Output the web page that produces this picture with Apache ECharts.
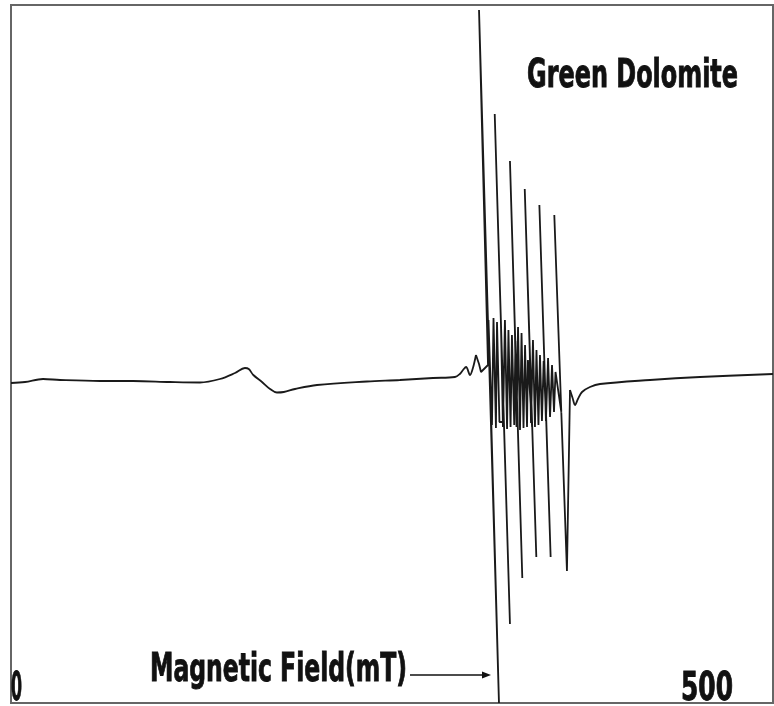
<!DOCTYPE html>
<html>
<head>
<meta charset="utf-8">
<script src="https://cdn.jsdelivr.net/npm/echarts@6/dist/echarts.min.js"></script>
<style>
  html, body { margin: 0; padding: 0; background: #fff; }
  #chart { width: 774px; height: 706px; }
</style>
</head>
<body>
<div id="chart"></div>
<script>
// EPR trace, field in mT, intensity in arbitrary units (0 = baseline)
var fieldMT = [
  0, 9.2, 21.0, 32.2, 58.4, 80.1, 104.3, 124.0, 137.1, 147.0, 153.5, 156.0, 159.0, 164.7, 170.0, 174.5, 179.0, 186.4, 200.8,
  233.6, 255.2, 276.9, 291.3, 294.5, 296.6, 298.6, 301.2, 303.1, 305.1,
  307.1, 308.4, 313.0,
  307.1, 320.2,
  313.3, 315.6, 316.6, 318.2, 318.9, 320.5, 323.4,
  317.4, 327.4,
  321.5, 322.8, 324.1, 325.5, 326.4, 327.8, 328.7, 330.2, 331.0, 332.5,
  327.4, 335.5,
  330.6, 331.7, 332.7, 334.0, 335.0, 336.3, 337.3, 338.6, 339.2, 341.9,
  337.1, 344.7,
  340.3, 341.2, 342.5, 343.8, 344.8, 346.1, 347.1, 348.4, 349.5, 351.2,
  346.7, 354.1,
  349.9, 351.0, 352.4, 353.7, 355.0, 356.3, 357.3, 361.1,
  356.5, 364.8,
  366.8, 368.5, 370.1, 372.0, 374.7, 379.9, 386.5, 419.3, 452.1, 500.0
];
var intensity = [
  -2, -1, 2, 1, 0, 0, -1, -1.5, 2, 8, 13, 12, 6, -1, -8, -11.5, -11, -8, -4,
  -0.5, 1, 3, 4, 7, 11, 14, 6, 13, 26,
  17, 9, 16,
  371, -322,
  61, -44, 63, -47, 59, -41, -41,
  267, -243,
  56, -46, 61, -48, 51, -46, 46, -44, 40, -46,
  220, -197,
  53, -46, 54, -49, 48, -47, 36, -46, 21, -46,
  192, -176,
  36, -42, 41, -46, 31, -44, 26, -40, 20, -40,
  176, -176,
  21, -40, 23, -36, 16, -31, 9, -31,
  166, -190,
  -9, -17, -24, -18, -11, -6, -3, 1, 4, 7
];
var tickLabels = ['0', '500'];
var sampleName = 'Green Dolomite';
var axisName = 'Magnetic Field(mT)';

var traceData = fieldMT.map(function (f, i) { return [f, intensity[i]]; });
// broad parts are drawn smooth, the narrow hyperfine lines with straight strokes
var spikeFrom = 28;                      // 305.1 mT
var spikeTo = fieldMT.indexOf(366.8);    // first point of the recovery
var lineStyle = { color: '#1a1a1a', width: 1.8 };

var FONT = 'bold 39px "DejaVu Sans Condensed", "DejaVu Sans", sans-serif';
var measureCtx = document.createElement('canvas').getContext('2d');
measureCtx.font = FONT;
// squeeze the text horizontally to the narrow width used in the figure
function fitScale(text, width) {
  return width / measureCtx.measureText(text).width;
}
function label(text, x, y, width) {
  return {
    type: 'text',
    x: x,
    y: y,
    scaleX: fitScale(text, width),
    silent: true,
    style: {
      text: text, font: FONT, fill: '#111',
      stroke: '#111', lineWidth: 0.9,
      verticalAlign: 'bottom'
    }
  };
}

var chart = echarts.init(document.getElementById('chart'));
chart.setOption({
  animation: false,
  backgroundColor: '#fff',
  grid: {
    left: 11, right: 1, top: 5, bottom: 3,
    show: true,
    borderColor: '#666',
    borderWidth: 2
  },
  xAxis: {
    type: 'value', min: 0, max: 500,
    axisLine: { show: false }, axisTick: { show: false },
    axisLabel: { show: false }, splitLine: { show: false }
  },
  yAxis: {
    type: 'value', min: -322, max: 376,
    axisLine: { show: false }, axisTick: { show: false },
    axisLabel: { show: false }, splitLine: { show: false }
  },
  series: [{
    type: 'line',
    data: traceData.slice(0, spikeFrom + 1),
    showSymbol: false,
    smooth: 0.35,
    lineStyle: lineStyle
  }, {
    type: 'line',
    data: traceData.slice(spikeFrom, spikeTo + 1),
    showSymbol: false,
    clip: true,
    lineStyle: lineStyle
  }, {
    type: 'line',
    data: traceData.slice(spikeTo),
    showSymbol: false,
    smooth: 0.35,
    lineStyle: lineStyle
  }],
  graphic: [
    label(sampleName, 527, 96, 211),
    label(axisName, 150, 690, 257),
    label(tickLabels[0], 11, 709, 11),
    label(tickLabels[1], 681, 709, 52),
    {
      type: 'line', silent: true,
      shape: { x1: 410, y1: 675, x2: 486, y2: 675 },
      style: { stroke: '#111', lineWidth: 1.5 }
    },
    {
      type: 'polygon', silent: true,
      shape: { points: [[491, 675], [482, 671.5], [482, 678.5]] },
      style: { fill: '#111' }
    }
  ]
});
</script>
</body>
</html>
